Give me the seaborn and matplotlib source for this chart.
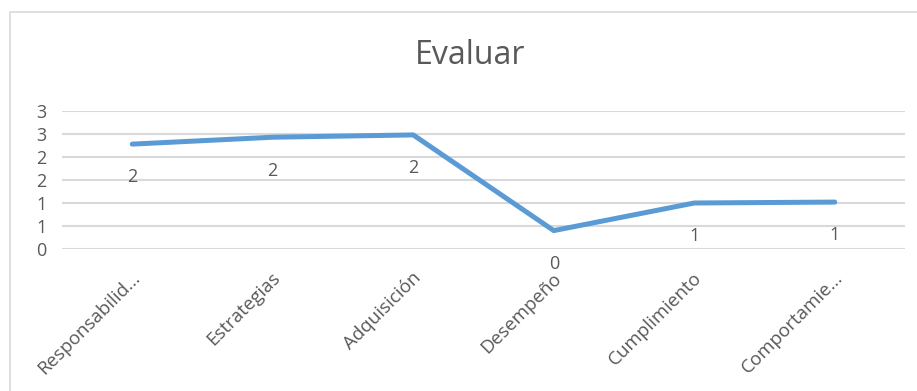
import numpy as np
import pandas as pd
import seaborn as sns
import matplotlib.pyplot as plt
from matplotlib.patches import Rectangle
from matplotlib.transforms import ScaledTranslation

# datos
categorias = ["Responsabilid...", "Estrategias", "Adquisición", "Desempeño", "Cumplimiento", "Comportamie..."]
valores = [2.28, 2.43, 2.48, 0.40, 1.00, 1.02]
ticks_y = [0, 0.5, 1, 1.5, 2, 2.5, 3]
etiquetas_y = ["0", "1", "1", "2", "2", "3", "3"]
titulo = "Evaluar"

gris_texto = "#595959"
gris_linea = "#D9D9D9"
azul = "#5B9BD5"


def main():
    df = pd.DataFrame({"pos": np.arange(len(categorias)), "valor": valores})

    sns.set_style("white")
    plt.rcParams['font.family'] = ['Open Sans', 'DejaVu Sans']

    fig = plt.figure(figsize=(9.17, 3.91), dpi=100)
    ax = fig.add_axes([62 / 917, 1 - 249 / 391, (905 - 62) / 917, (249 - 111) / 391])

    sns.lineplot(data=df, x="pos", y="valor", ax=ax, color=azul, linewidth=3.6,
                 solid_capstyle="round", solid_joinstyle="round", zorder=3)

    # etiquetas de datos debajo de cada punto
    for x, v in zip(df["pos"], df["valor"]):
        ax.annotate(f"{v:.0f}", (x, v), xytext=(0, -24), textcoords="offset points",
                    ha="center", va="center", fontsize=13, color=gris_texto)

    ax.set_xlim(-0.5, len(categorias) - 0.5)
    ax.set_ylim(0, 3)
    ax.set_yticks(ticks_y)
    ax.set_yticklabels(etiquetas_y)
    ax.grid(axis="y", color=gris_linea, linewidth=1.5)
    ax.set_axisbelow(True)
    for s in ax.spines.values():
        s.set_visible(False)
    ax.tick_params(axis="y", length=0, pad=11, labelsize=13, labelcolor=gris_texto)
    ax.tick_params(axis="x", length=0, pad=19, labelsize=13.5, labelcolor=gris_texto)

    ax.set_xticks(df["pos"])
    ax.set_xticklabels(categorias, rotation=45, ha="right", va="center", rotation_mode="anchor")
    desplazar = ScaledTranslation(5 / 100, 0, fig.dpi_scale_trans)
    for lab in ax.get_xticklabels():
        lab.set_transform(lab.get_transform() + desplazar)

    ax.set_xlabel("")
    ax.set_ylabel("")

    fig.text(470 / 917, 1 - 56 / 391, titulo, ha="center", va="center", fontsize=23, color=gris_texto)

    # borde del area del grafico
    fig.add_artist(Rectangle((10 / 917, -0.2), 1.2, 1.2 - 12 / 391,
                             transform=fig.transFigure, fill=False,
                             edgecolor=gris_linea, linewidth=1.2))

    fig.savefig("out.png", dpi=100, facecolor="white")


if __name__ == "__main__":
    main()
